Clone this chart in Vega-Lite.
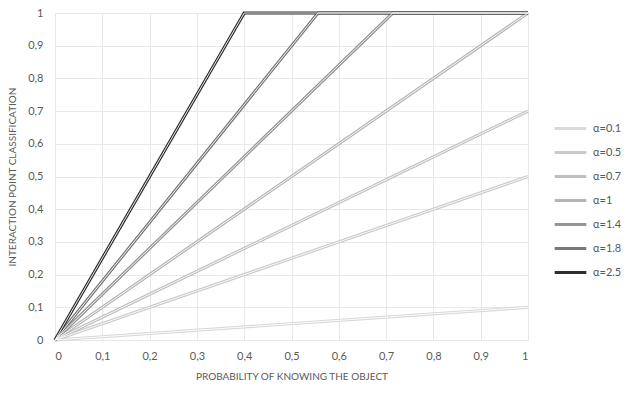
{
  "$schema": "https://vega.github.io/schema/vega-lite/v6.json",
  "autosize": "none",
  "width": 473,
  "height": 327,
  "padding": {"left": 55, "top": 13, "right": 97, "bottom": 53},
  "background": "white",
  "config": {
    "font": "Lato",
    "view": {"stroke": null},
    "axis": {"labelColor": "#595959", "titleColor": "#595959", "labelFontSize": 11, "titleFontSize": 10, "titleFontWeight": "normal", "gridColor": "#e8e8e8", "domain": false, "ticks": false}
  },
  "data": {"values": [
    {"series": "α=0.1", "x": 0, "y": 0}, {"series": "α=0.1", "x": 1, "y": 0.1},
    {"series": "α=0.5", "x": 0, "y": 0}, {"series": "α=0.5", "x": 1, "y": 0.5},
    {"series": "α=0.7", "x": 0, "y": 0}, {"series": "α=0.7", "x": 1, "y": 0.7},
    {"series": "α=1", "x": 0, "y": 0}, {"series": "α=1", "x": 1, "y": 1},
    {"series": "α=1.4", "x": 0, "y": 0}, {"series": "α=1.4", "x": 0.714, "y": 1}, {"series": "α=1.4", "x": 1, "y": 1},
    {"series": "α=1.8", "x": 0, "y": 0}, {"series": "α=1.8", "x": 0.556, "y": 1}, {"series": "α=1.8", "x": 1, "y": 1},
    {"series": "α=2.5", "x": 0, "y": 0}, {"series": "α=2.5", "x": 0.4, "y": 1}, {"series": "α=2.5", "x": 1, "y": 1}
  ]},
  "encoding": {
    "x": {"field": "x", "type": "quantitative", "scale": {"domain": [0, 1], "nice": false}, "axis": {"values": [0,0.1,0.2,0.3,0.4,0.5,0.6,0.7,0.8,0.9,1], "format": ".1~f", "labelExpr": "replace(datum.label, '.', ',')", "title": "PROBABILITY OF KNOWING THE OBJECT", "labelPadding": 10, "titlePadding": 10}},
    "y": {"field": "y", "type": "quantitative", "scale": {"domain": [0, 1], "nice": false}, "axis": {"values": [0,0.1,0.2,0.3,0.4,0.5,0.6,0.7,0.8,0.9,1], "format": ".1~f", "labelExpr": "replace(datum.label, '.', ',')", "title": "INTERACTION POINT CLASSIFICATION", "labelPadding": 12, "titlePadding": 10}},
    "detail": {"field": "series"}
  },
  "layer": [
    {
      "mark": {"type": "line", "strokeWidth": 3.2},
      "encoding": {
        "color": {"field": "series", "type": "nominal",
          "scale": {"domain": ["α=0.1","α=0.5","α=0.7","α=1","α=1.4","α=1.8","α=2.5"], "range": ["#d9d9d9","#cacaca","#bfbfbf","#b5b5b5","#969696","#7a7a7a","#2e2e2e"]},
          "legend": {"title": null, "orient": "none", "legendX": 498, "legendY": 98, "symbolType": "stroke", "symbolSize": 1000, "symbolStrokeWidth": 3, "rowPadding": 0, "labelFontSize": 11, "labelColor": "#595959", "labelOffset": 5}}
      }
    },
    {
      "mark": {"type": "line", "strokeWidth": 0.9, "color": "white"}
    }
  ]
}
